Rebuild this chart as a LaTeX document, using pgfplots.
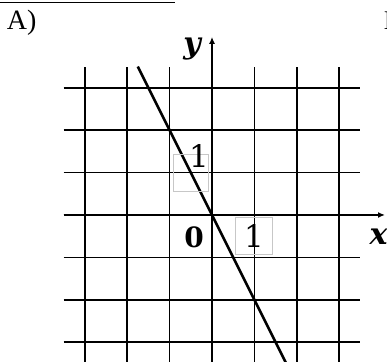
\documentclass[border=0pt]{standalone}
\usepackage{fontspec}
\setmainfont{Liberation Serif}
\newfontfamily\dvs{DejaVu Serif}
\usepackage{pgfplots}
\pgfplotsset{compat=1.18}
\usetikzlibrary{arrows.meta}
\begin{document}
\begin{tikzpicture}
\begin{axis}[
  x=42.4pt, y=42.4pt,
  xmin=-3.5, xmax=3.5, ymin=-3.5, ymax=3.5,
  scale only axis,
  clip=false,
  axis line style={draw=none},
  tick style={draw=none},
  xtick={-3,-2,-1,0,1,2,3},
  ytick={-3,-2,-1,0,1,2,3},
  xticklabels={}, yticklabels={},
  grid=major,
  major grid style={black, line width=1.7pt},
]
% frame coordinates of the picture
\coordinate (TL) at (axis cs:-5.0,5.07);
\coordinate (BR) at (axis cs:4.127,-3.467);
% axes
\draw[black, line width=2.6pt, -{Latex[length=7pt,width=6pt]}] (axis cs:-3.5,0) -- (axis cs:4.08,0);
\draw[black, line width=2.6pt, -{Latex[length=7pt,width=6pt]}] (axis cs:0,-3.6) -- (axis cs:0,4.2);
% function y = -2x
\addplot[black, line width=2.6pt] coordinates {(-1.75,3.5) (1.75,-3.5)};
% unit label boxes
\draw[black!22, line width=0.8pt] (axis cs:-0.92,1.44) rectangle (axis cs:-0.094,0.566);
\draw[black!22, line width=0.8pt] (axis cs:0.54,-0.05) rectangle (axis cs:1.415,-0.94);
\node[inner sep=0pt, font=\dvs\fontsize{31}{33}\selectfont] at (axis cs:-0.31,1.40) {1};
\node[inner sep=0pt, font=\dvs\fontsize{31}{33}\selectfont] at (axis cs:0.99,-0.50) {1};
\node[inner sep=0pt, font=\dvs\fontsize{28}{30}\selectfont\bfseries] at (axis cs:-0.42,-0.52) {0};
\node[inner sep=0pt, font=\dvs\fontsize{30}{34}\selectfont\bfseries\itshape] at (axis cs:3.93,-0.52) {x};
\node[inner sep=0pt, font=\dvs\fontsize{30}{34}\selectfont\bfseries\itshape] at (axis cs:-0.47,3.92) {y};
% heading
\node[inner sep=0pt, anchor=base west, font=\fontsize{28}{30}\selectfont] at (axis cs:-4.84,4.38) {A)};
\node[inner sep=0pt, anchor=base west, font=\fontsize{27}{30}\selectfont] at (axis cs:4.05,4.38) {Б};
\draw[black, line width=1.2pt] (axis cs:-5.0,5.02) -- (axis cs:-0.873,5.02);
\end{axis}
\pgfresetboundingbox
\path[use as bounding box] (TL) rectangle (BR);
\end{tikzpicture}
\end{document}
